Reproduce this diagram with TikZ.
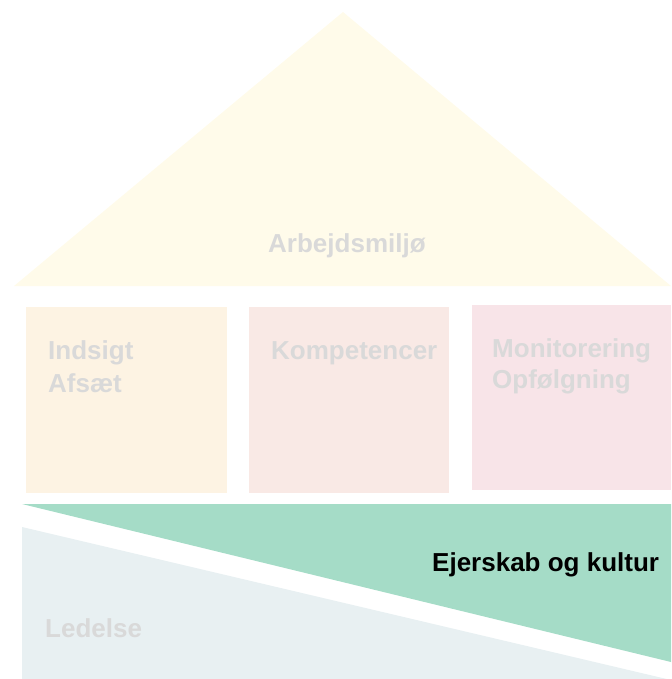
\documentclass[tikz,border=0pt]{standalone}
\usepackage{fontspec}
\setmainfont{Liberation Sans}
\definecolor{roofc}{HTML}{FFFBEA}
\definecolor{boxa}{HTML}{FDF3E3}
\definecolor{boxb}{HTML}{F9E9E5}
\definecolor{boxc}{HTML}{F8E4E8}
\definecolor{greenc}{HTML}{A5DCC7}
\definecolor{grayc}{HTML}{E8F0F2}
\definecolor{fadetxt}{HTML}{D9D9D9}
\tikzset{
  lbl/.style={anchor=base west, inner sep=0pt, font=\fontsize{26}{31}\selectfont\bfseries, text=fadetxt},
  strong/.style={lbl, text=black}
}
\begin{document}
\begin{tikzpicture}[x=1pt,y=-1pt]
\useasboundingbox (0,0) rectangle (671,679);
% roof
\fill[roofc] (343,12) -- (671,286) -- (14,286) -- cycle;
\node[lbl] (arb) at (268,252) {Arbejdsmiljø};
% pillars
\fill[boxa] (26,307) rectangle (227,493);
\fill[boxb] (249,307) rectangle (449,493);
\fill[boxc] (472,305) rectangle (671,490);
\node[lbl] (ind) at (48,359) {Indsigt};
\node[lbl] (afs) at (48,392) {Afsæt};
\node[lbl] (komp) at (271,359) {Kompetencer};
\node[lbl] (mon) at (492,357) {Monitorering};
\node[lbl] (opf) at (492,388) {Opfølgning};
% foundation
\fill[greenc] (22,504) -- (671,504) -- (671,662) -- cycle;
\fill[grayc] (22,527) -- (671,680) -- (671,679) -- (22,679) -- cycle;
\node[strong] (ejer) at (432,571) {Ejerskab og kultur};
\node[lbl] (led) at (45,637) {Ledelse};
\end{tikzpicture}
\end{document}
